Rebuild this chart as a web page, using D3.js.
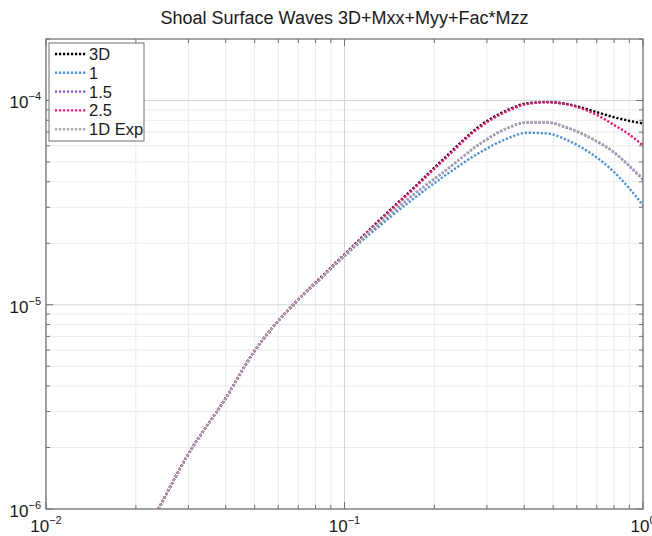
<!DOCTYPE html>
<html>
<head>
<meta charset="utf-8">
<script src="https://cdn.jsdelivr.net/npm/d3@7"></script>
<style>
  body { margin: 0; background: #fff; }
  text { font-family: "Liberation Sans", Arial, Helvetica, sans-serif; fill: #1a1a1a; }
</style>
</head>
<body>
<svg id="chart" width="652" height="536"></svg>
<script>

// values
var freq    = [0.020, 0.0238, 0.0296, 0.0403, 0.0494, 0.0577, 0.0691, 0.085, 0.1, 0.1315, 0.170, 0.220, 0.284, 0.35, 0.408, 0.476, 0.555, 0.615, 0.68, 0.795, 0.9, 1.0];
var s3D     = [6.2e-7, 1.0e-6, 1.8e-6, 3.55e-6, 5.8e-6, 7.8e-6, 1.04e-5, 1.40e-5, 1.764e-5, 2.61e-5, 3.72e-5, 5.35e-5, 7.50e-5, 8.95e-5, 9.68e-5, 9.82e-5, 9.62e-5, 9.28e-5, 8.88e-5, 8.30e-5, 7.95e-5, 7.72e-5];
var s1      = [6.2e-7, 1.0e-6, 1.8e-6, 3.55e-6, 5.8e-6, 7.8e-6, 1.035e-5, 1.38e-5, 1.73e-5, 2.44e-5, 3.30e-5, 4.35e-5, 5.56e-5, 6.50e-5, 6.95e-5, 6.90e-5, 6.42e-5, 5.95e-5, 5.42e-5, 4.50e-5, 3.71e-5, 3.06e-5];
var s15     = [6.2e-7, 1.0e-6, 1.8e-6, 3.55e-6, 5.8e-6, 7.8e-6, 1.04e-5, 1.385e-5, 1.745e-5, 2.52e-5, 3.45e-5, 4.58e-5, 6.12e-5, 7.30e-5, 7.80e-5, 7.80e-5, 7.36e-5, 6.95e-5, 6.45e-5, 5.60e-5, 4.77e-5, 4.10e-5];
var s25     = [6.2e-7, 1.0e-6, 1.8e-6, 3.55e-6, 5.8e-6, 7.8e-6, 1.04e-5, 1.39e-5, 1.755e-5, 2.59e-5, 3.68e-5, 5.28e-5, 7.40e-5, 8.85e-5, 9.60e-5, 9.80e-5, 9.60e-5, 9.19e-5, 8.68e-5, 7.63e-5, 6.81e-5, 6.02e-5];
var s1DExp  = [6.2e-7, 1.0e-6, 1.8e-6, 3.55e-6, 5.8e-6, 7.8e-6, 1.04e-5, 1.385e-5, 1.745e-5, 2.53e-5, 3.47e-5, 4.60e-5, 6.15e-5, 7.33e-5, 7.83e-5, 7.83e-5, 7.40e-5, 6.98e-5, 6.48e-5, 5.63e-5, 4.80e-5, 4.13e-5];

var seriesNames  = ["3D", "1", "1.5", "2.5", "1D Exp"];
var seriesColors = ["#000000", "#4b8fd6", "#8c52c4", "#e8197a", "#a9a9a9"];
var xTickExps = [-2, -1, 0];
var yTickExps = [-6, -5, -4];

var titleText = "Shoal Surface Waves 3D+Mxx+Myy+Fac*Mzz";

var svg = d3.select("#chart");
var margin = {left: 46, top: 39, right: 9, bottom: 27};
var W = 652 - margin.left - margin.right;
var H = 536 - margin.top - margin.bottom;

var x = d3.scaleLog().domain([1e-2, 1]).range([0, W]);
var y = d3.scaleLog().domain([1e-6, 2e-4]).range([H, 0]);

var g = svg.append("g").attr("transform", "translate(" + margin.left + "," + margin.top + ")");

//**************************** GRID ****************************
var xMinor = [], yMinor = [];
[0.01, 0.1].forEach(function (d) { for (var k = 2; k <= 9; k++) xMinor.push(d * k); });
[1e-6, 1e-5, 1e-4].forEach(function (d) { for (var k = 2; k <= 9; k++) if (d * k <= 2e-4) yMinor.push(d * k); });
var xMajor = xTickExps.map(function (e) { return Math.pow(10, e); });
var yMajor = yTickExps.map(function (e) { return Math.pow(10, e); });

var grid = g.append("g").attr("class", "grid");
grid.selectAll("line.xmin").data(xMinor).enter().append("line")
    .attr("x1", x).attr("x2", x).attr("y1", 0).attr("y2", H)
    .attr("stroke", "#ebebeb").attr("stroke-width", 1);
grid.selectAll("line.ymin").data(yMinor).enter().append("line")
    .attr("y1", y).attr("y2", y).attr("x1", 0).attr("x2", W)
    .attr("stroke", "#ebebeb").attr("stroke-width", 1);
grid.selectAll("line.xmaj").data(xMajor).enter().append("line")
    .attr("x1", x).attr("x2", x).attr("y1", 0).attr("y2", H)
    .attr("stroke", "#d6d6d6").attr("stroke-width", 1);
grid.selectAll("line.ymaj").data(yMajor).enter().append("line")
    .attr("y1", y).attr("y2", y).attr("x1", 0).attr("x2", W)
    .attr("stroke", "#d6d6d6").attr("stroke-width", 1);

//**************************** LINES ****************************
svg.append("defs").append("clipPath").attr("id", "plotClip")
    .append("rect").attr("width", W).attr("height", H);

var allSeries = [s3D, s1, s15, s25, s1DExp];
var line = d3.line()
    .x(function (d, i) { return x(freq[i]); })
    .y(function (d) { return y(d); })
    .curve(d3.curveMonotoneX);

g.append("g").attr("clip-path", "url(#plotClip)")
    .selectAll("path").data(allSeries).enter().append("path")
    .attr("d", line)
    .attr("fill", "none")
    .attr("stroke", function (d, i) { return seriesColors[i]; })
    .attr("stroke-width", 2.4)
    .attr("stroke-dasharray", "2.2,1.8");

//**************************** AXES BOX + TICKS ****************************
var axisCol = "#707070";
var ax = g.append("g").attr("class", "axes");

function tickSet(vals, len, horizontal) {
    // ticks on both sides (box on)
    vals.forEach(function (v) {
        if (horizontal) {
            ax.append("line").attr("x1", x(v)).attr("x2", x(v)).attr("y1", H).attr("y2", H - len).attr("stroke", axisCol);
            ax.append("line").attr("x1", x(v)).attr("x2", x(v)).attr("y1", 0).attr("y2", len).attr("stroke", axisCol);
        } else {
            ax.append("line").attr("y1", y(v)).attr("y2", y(v)).attr("x1", 0).attr("x2", len).attr("stroke", axisCol);
            ax.append("line").attr("y1", y(v)).attr("y2", y(v)).attr("x1", W).attr("x2", W - len).attr("stroke", axisCol);
        }
    });
}
tickSet(xMinor, 4, true);
tickSet(xMajor, 7, true);
tickSet(yMinor, 4, false);
tickSet(yMajor, 7, false);

ax.append("rect").attr("width", W).attr("height", H)
    .attr("fill", "none").attr("stroke", axisCol).attr("stroke-width", 1.2);

//**************************** TICK LABELS ****************************
xTickExps.forEach(function (e) {
    var t = g.append("text")
        .attr("x", x(Math.pow(10, e)))
        .attr("y", H + 23)
        .attr("text-anchor", "middle")
        .style("font-size", "17px");
    t.append("tspan").text("10");
    t.append("tspan").attr("dy", -8).style("font-size", "11px").text(e === 0 ? "0" : "\u2212" + (-e));
});

yTickExps.forEach(function (e) {
    var t = g.append("text")
        .attr("x", -5)
        .attr("y", y(Math.pow(10, e)) + 8)
        .attr("text-anchor", "end")
        .style("font-size", "17px");
    t.append("tspan").text("10");
    t.append("tspan").attr("dy", -8).style("font-size", "11px").text("\u2212" + (-e));
});

//**************************** TITLE ****************************
svg.append("text")
    .attr("x", margin.left + W / 2)
    .attr("y", 24)
    .attr("text-anchor", "middle")
    .style("font-size", "18px")
    .text(titleText);

//**************************** LEGEND ****************************
var leg = g.append("g").attr("transform", "translate(3,4)");
leg.append("rect").attr("width", 95).attr("height", 98)
    .attr("fill", "#fff").attr("stroke", axisCol).attr("stroke-width", 1);

seriesNames.forEach(function (name, i) {
    var yy = 11 + i * 18.8;
    leg.append("line")
        .attr("x1", 6).attr("x2", 37).attr("y1", yy).attr("y2", yy)
        .attr("stroke", seriesColors[i]).attr("stroke-width", 2.4)
        .attr("stroke-dasharray", "2.2,1.8");
    leg.append("text").attr("x", 40).attr("y", yy + 6)
        .style("font-size", "16.5px").text(name);
});

</script>
</body>
</html>
